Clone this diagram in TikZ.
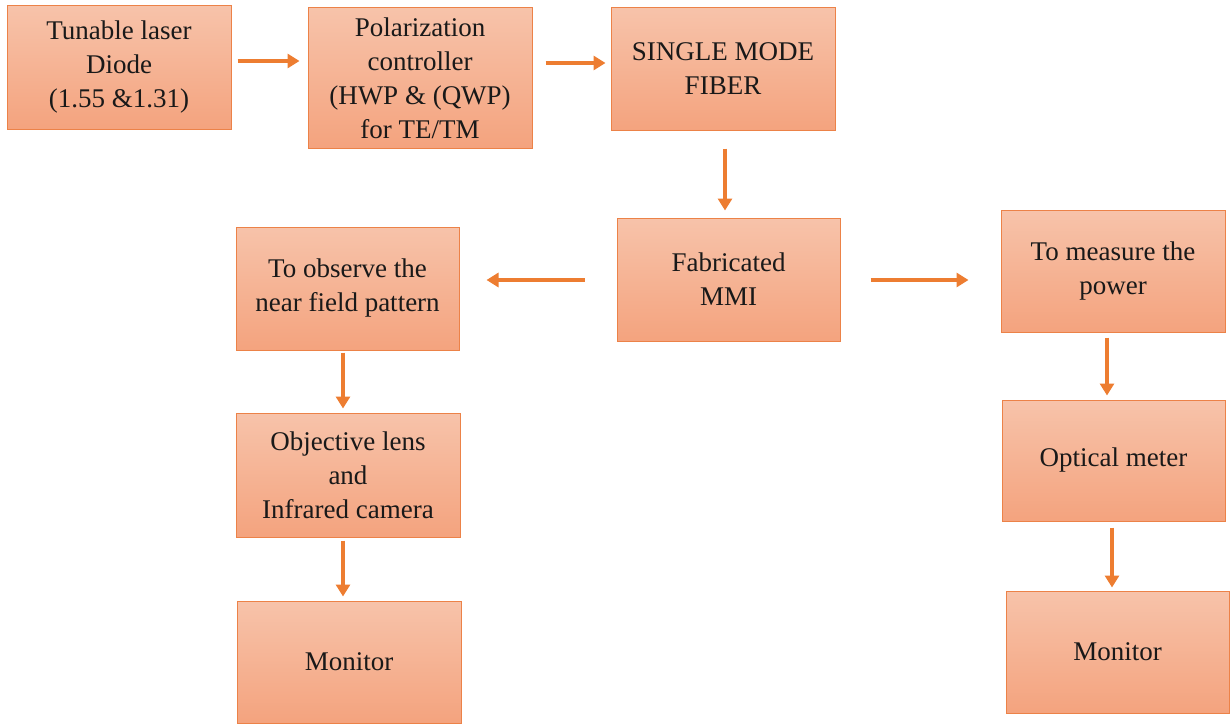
\documentclass[tikz,border=0pt]{standalone}
\usepackage{fontspec}
\setmainfont{Liberation Serif}
\usetikzlibrary{calc,arrows.meta}
\definecolor{arrowc}{RGB}{237,125,49}
\definecolor{boxtop}{RGB}{247,195,170}
\definecolor{boxbot}{RGB}{244,163,126}
\definecolor{boxline}{RGB}{236,130,72}
\tikzset{
  blk/.style={draw=boxline, line width=1pt, top color=boxtop, bottom color=boxbot,
    inner sep=0pt, align=center, font=\fontsize{27}{34}\selectfont, text=black!90},
  arr/.style={draw=arrowc, line width=3.6pt, -{Triangle[length=12pt,width=14pt]}}
}
\begin{document}
\begin{tikzpicture}[x=1pt,y=-1pt]
\useasboundingbox (0,0) rectangle (1231,725);
\node[blk, minimum width=224pt, minimum height=123pt] (n1) at (119,67.5) {Tunable laser\\Diode\\(1.55 \&1.31)};
\node[blk, minimum width=224pt, minimum height=140pt] (n2) at (420,78) {Polarization\\controller\\(HWP \& (QWP)\\for TE/TM};
\node[blk, minimum width=224pt, minimum height=122pt] (n3) at (723,69) {SINGLE MODE\\FIBER};
\node[blk, minimum width=223pt, minimum height=123pt] (n4) at (728.5,279.5) {Fabricated\\MMI};
\node[blk, minimum width=223pt, minimum height=123pt] (n5) at (347.5,288.5) {To observe the\\near field pattern};
\node[blk, minimum width=224pt, minimum height=122pt] (n6) at (1113,271) {To measure the\\power};
\node[blk, minimum width=224pt, minimum height=124pt] (n7) at (348,475) {Objective lens\\and\\Infrared camera};
\node[blk, minimum width=223pt, minimum height=121pt] (n8) at (1113.5,460.5) {Optical meter};
\node[blk, minimum width=224pt, minimum height=122pt] (n9) at (349,662) {Monitor};
\node[blk, minimum width=223pt, minimum height=122pt] (n10) at (1117.5,652) {Monitor};

\draw[arr] ($(n1.east)+(6,-6.5)$) -- ($(n2.west)+(-8,-17)$);
\draw[arr] ($(n2.east)+(13,-15)$) -- ($(n3.west)+(-5,-6)$);
\draw[arr] ($(n3.south)+(2,18)$) -- ($(n4.north)+(-3.5,-7)$);
\draw[arr] ($(n4.west)+(-32,0.5)$) -- ($(n5.east)+(27,-8.5)$);
\draw[arr] ($(n4.east)+(30,0.5)$) -- ($(n6.west)+(-32,9)$);
\draw[arr] ($(n5.south)+(-4.5,2)$) -- ($(n7.north)+(-5,-4)$);
\draw[arr] ($(n7.south)+(-5,3)$) -- ($(n9.north)+(-6,-4)$);
\draw[arr] ($(n6.south)+(-6,5)$) -- ($(n8.north)+(-6.5,-4)$);
\draw[arr] ($(n8.south)+(-1.5,6)$) -- ($(n10.north)+(-5.5,-3)$);
\end{tikzpicture}
\end{document}
